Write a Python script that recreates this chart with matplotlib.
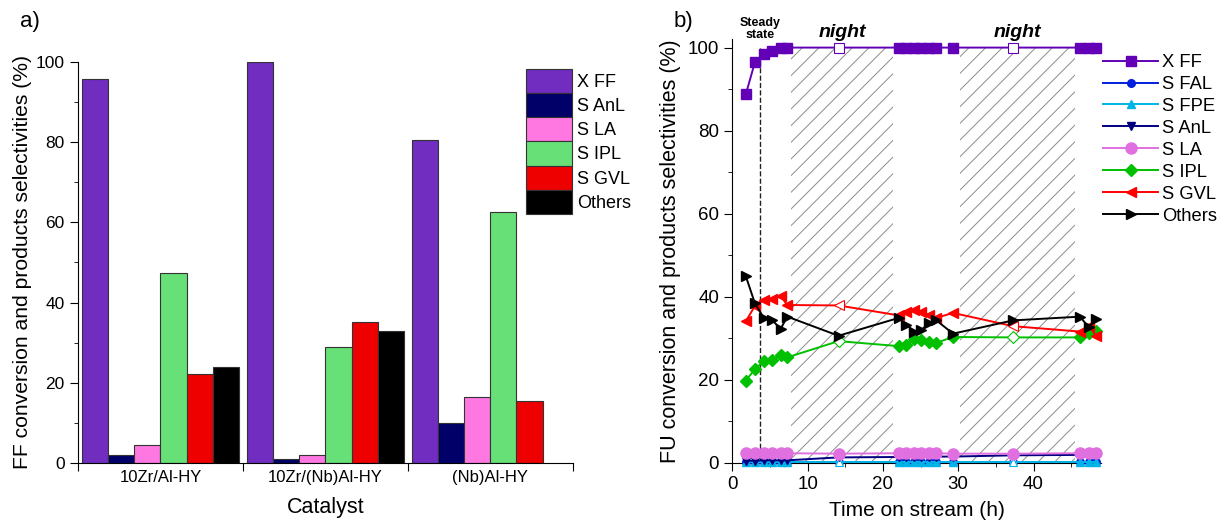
import matplotlib.pyplot as plt
import numpy as np
from matplotlib.ticker import MultipleLocator, FixedLocator, NullFormatter

plt.rcParams["font.family"] = ["Liberation Sans", "DejaVu Sans"]
plt.rcParams["hatch.color"] = "#8c8c8c"
plt.rcParams["hatch.linewidth"] = 0.7

# --- panel a: catalyst comparison ---
catalysts = ["10Zr/Al-HY", "10Zr/(Nb)Al-HY", "(Nb)Al-HY"]
bar_x_ff = [95.8, 100.0, 80.6]
bar_s_anl = [2.0, 1.0, 9.9]
bar_s_la = [4.3, 2.0, 16.5]
bar_s_ipl = [47.3, 28.9, 62.5]
bar_s_gvl = [22.2, 35.2, 15.3]
bar_others = [23.9, 32.8, 0.0]

# --- panel b: time on stream ---
tos = [1.8, 3.0, 4.2, 5.3, 6.4, 7.3, 14.1, 22.1, 23.1, 24.1, 25.1, 26.1,
       27.1, 29.3, 37.3, 46.2, 47.3, 48.3]
x_ff = [88.8, 96.5, 98.5, 99.1, 100, 100, 100, 100, 100, 100, 100, 100,
        100, 100, 100, 100, 100, 100]
s_fal = [0.3, 0.3, 0.3, 0.3, 0.3, 0.3, 0.3, 0.3, 0.3, 0.3, 0.3, 0.3,
         0.3, 0.3, 0.3, 0.3, 0.3, 0.3]
s_fpe = [0.1, 0.1, 0.1, 0.1, 0.1, 0.1, 0.1, 0.1, 0.1, 0.1, 0.1, 0.1,
         0.1, 0.1, 0.1, 0.1, 0.1, 0.1]
s_anl = [0.5, 0.5, 0.6, 0.6, 0.6, 0.6, 1.3, 1.4, 1.4, 1.5, 1.5, 1.5,
         1.5, 1.5, 1.8, 1.9, 1.9, 1.9]
s_la = [2.3, 2.3, 2.3, 2.3, 2.3, 2.3, 2.2, 2.3, 2.3, 2.3, 2.3, 2.3,
        2.3, 2.2, 2.2, 2.3, 2.4, 2.4]
s_ipl = [19.8, 22.6, 24.5, 24.7, 26.0, 25.4, 29.3, 28.1, 28.4, 29.7, 29.6,
         29.0, 28.9, 30.3, 30.2, 30.2, 31.2, 31.8]
s_gvl = [34.1, 37.8, 39.2, 39.5, 40.2, 38.0, 37.9, 35.5, 36.2, 36.8, 36.3,
         35.6, 34.9, 36.1, 32.9, 31.6, 33.0, 30.6]
s_others = [44.9, 38.4, 34.8, 34.4, 32.2, 35.2, 30.6, 34.9, 33.3, 31.6, 32.0,
            33.6, 34.3, 31.1, 34.3, 35.2, 32.6, 34.6]
night_idx = [6, 14]
nights = [(7.8, 21.4), (30.2, 45.5)]
steady_state = 3.7

fig = plt.figure(figsize=(12.23, 5.21), dpi=100)

# ---------------- a) bar chart ----------------
ax1 = fig.add_axes([0.0638, 0.1119, 0.4045, 0.7686])
bar_series = [
    ("X FF", bar_x_ff, "#712CC0"),
    ("S AnL", bar_s_anl, "#000068"),
    ("S LA", bar_s_la, "#FF78E1"),
    ("S IPL", bar_s_ipl, "#66E077"),
    ("S GVL", bar_s_gvl, "#EE0000"),
    ("Others", bar_others, "#000000"),
]
w = 0.159
n = len(bar_series)
idx = np.arange(len(catalysts))
handles = []
for j, (label, vals, color) in enumerate(bar_series):
    pos = idx + 0.5 - n * w / 2 + (j + 0.5) * w
    vals = np.array(vals, dtype=float)
    keep = vals > 0
    bars = ax1.bar(pos[keep], vals[keep], width=w, color=color,
                   edgecolor="#333333", linewidth=0.8, label=label)
    handles.append(bars)

ax1.set_xlim(0, 3)
ax1.set_ylim(0, 100)
ax1.xaxis.set_major_locator(FixedLocator([0, 1, 2, 3]))
ax1.xaxis.set_major_formatter(NullFormatter())
ax1.xaxis.set_minor_locator(FixedLocator(idx + 0.5))
ax1.set_xticklabels(catalysts, minor=True, fontsize=12)
ax1.tick_params(axis="x", which="minor", length=0, pad=5)
ax1.tick_params(axis="x", which="major", length=6, direction="out")
ax1.yaxis.set_major_locator(MultipleLocator(20))
ax1.yaxis.set_minor_locator(MultipleLocator(10))
ax1.tick_params(axis="y", which="major", length=6, labelsize=12.5)
ax1.tick_params(axis="y", which="minor", length=3)
for s in ["top", "right"]:
    ax1.spines[s].set_visible(False)
ax1.set_xlabel("Catalyst", fontsize=15.5, labelpad=9)
ax1.set_ylabel("FF conversion and products selectivities (%)", fontsize=15.2,
               labelpad=3)
fig.legend(handles=handles, loc="upper left",
           bbox_to_anchor=(526 / 1223, 1 - 69 / 521), frameon=False,
           fontsize=13, handlelength=2.55, handleheight=1.68,
           labelspacing=0.0, handletextpad=0.3, borderpad=0,
           borderaxespad=0)
fig.text(20 / 1223, 1 - 22 / 521, "a)", fontsize=16, va="center")

# ---------------- b) time on stream ----------------
ax2 = fig.add_axes([0.5988, 0.1117, 0.3011, 0.8129])
for a, b in nights:
    ax2.axvspan(a, b, ymin=0, ymax=100 / 102, facecolor="none",
                edgecolor="#8c8c8c", hatch="//", linewidth=0, zorder=0)
ax2.plot([steady_state, steady_state], [0, 100], "--", color="#222222",
         lw=1, zorder=1)

line_series = [
    ("X FF", x_ff, "#6200B8", "s", 7, True),
    ("S FAL", s_fal, "#0020DD", "o", 5.5, True),
    ("S FPE", s_fpe, "#00B4E6", "^", 5.5, True),
    ("S AnL", s_anl, "#000080", "v", 5.5, True),
    ("S LA", s_la, "#E070E0", "o", 8, False),
    ("S IPL", s_ipl, "#00C000", "D", 6.5, True),
    ("S GVL", s_gvl, "#FF0000", "<", 7.5, True),
    ("Others", s_others, "#000000", ">", 7.5, False),
]
t = np.array(tos)
day_idx = [i for i in range(len(tos)) if i not in night_idx]
for label, vals, color, mk, ms, hollow in line_series:
    v = np.array(vals)
    if hollow:
        ax2.plot(t, v, color=color, lw=1.4, marker=mk, ms=ms,
                 markevery=day_idx, label=label, clip_on=False, zorder=3)
        ax2.plot(t[night_idx], v[night_idx], ls="none", marker=mk, ms=ms,
                 mfc="white", mec=color, mew=0.8, clip_on=False, zorder=3)
    else:
        ax2.plot(t, v, color=color, lw=1.4, marker=mk, ms=ms, label=label,
                 clip_on=False, zorder=3)

ax2.set_xlim(0, 48.9)
ax2.set_ylim(0, 102)
ax2.xaxis.set_major_locator(MultipleLocator(10))
ax2.xaxis.set_minor_locator(MultipleLocator(5))
ax2.yaxis.set_major_locator(MultipleLocator(20))
ax2.yaxis.set_minor_locator(MultipleLocator(10))
ax2.tick_params(which="major", length=6, labelsize=13.5)
ax2.tick_params(which="minor", length=3)
for s in ["top", "right"]:
    ax2.spines[s].set_visible(False)
ax2.set_xlabel("Time on stream (h)", fontsize=15, labelpad=6)
ax2.set_ylabel("FU conversion and products selectivities (%)", fontsize=15.5,
               labelpad=5)
leg_handles, leg_labels = ax2.get_legend_handles_labels()
fig.legend(leg_handles, leg_labels, loc="upper left",
           bbox_to_anchor=(1103 / 1223, 1 - 54 / 521), frameon=False,
           fontsize=13.2, handlelength=3.0, labelspacing=0.27,
           handletextpad=0.2, borderpad=0, borderaxespad=0)

ax2.text(steady_state, 101.6, "Steady\nstate", ha="center", va="bottom",
         fontsize=9, fontweight="bold", linespacing=0.95)
for a, b in nights:
    ax2.text((a + b) / 2, 101.6, "night", ha="center", va="bottom",
             fontsize=14, fontweight="bold", style="italic")
fig.text(674 / 1223, 1 - 22 / 521, "b)", fontsize=16, va="center")

fig.savefig("out.png", dpi=100)
